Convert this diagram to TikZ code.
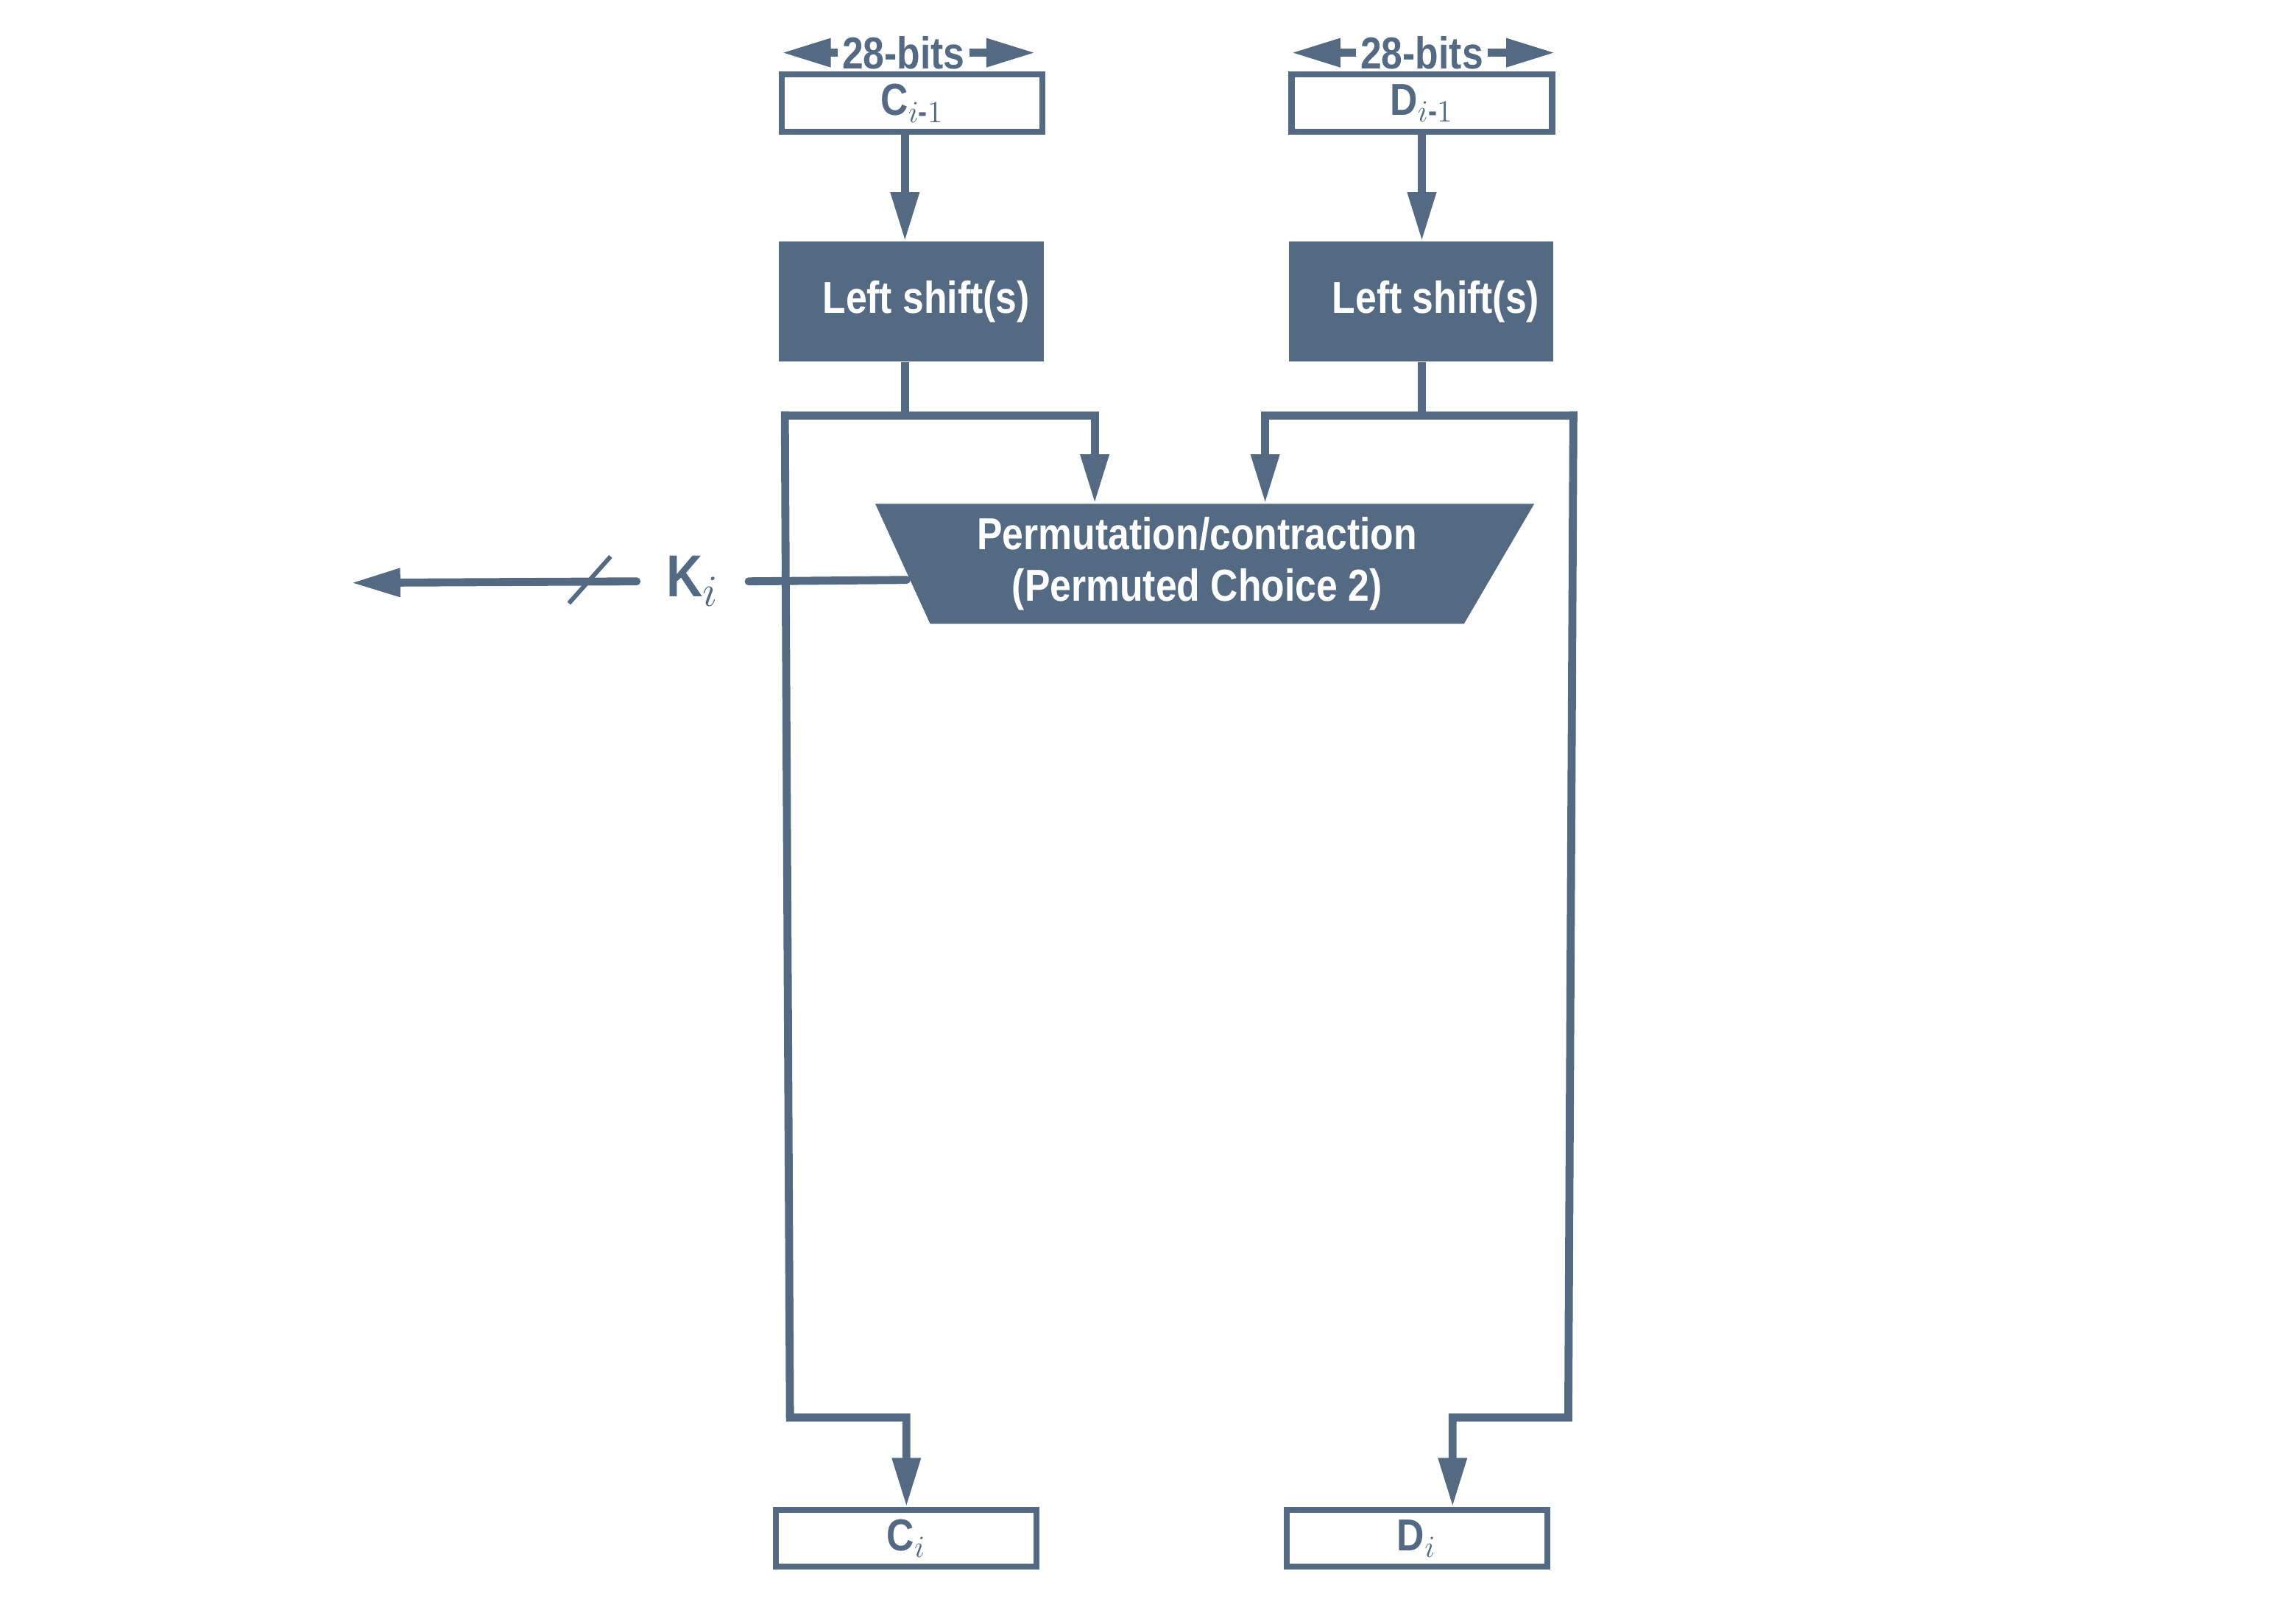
\documentclass[tikz,border=0pt]{standalone}
\usepackage{amsmath}
\usepackage{fontspec}
\setmainfont{Liberation Sans}[FakeStretch=0.85]
\usetikzlibrary{positioning,arrows.meta}
\usetikzlibrary{shapes.geometric}

\newcommand{\boxfont}{\fontsize{17.4}{19.8}\selectfont\bfseries}
\newcommand{\keyfont}{\fontsize{23}{26}\selectfont\bfseries}

\tikzstyle{regbox} = [draw=desblue, line width=2.3pt, fill=white, text=desblue, minimum width=3.56cm, minimum height=0.78cm, inner sep=0pt, font=\boxfont]
\tikzstyle{shiftbox} = [fill=desblue, text=white, minimum width=3.62cm, minimum height=1.64cm, inner sep=0pt, font=\boxfont]
\tikzstyle{bitlabel} = [text=desblue, inner sep=1.5pt, font=\boxfont]
\tikzstyle{flow} = [draw=desblue, line width=3.1pt]
\tikzstyle{arr} = [flow, -{Triangle[length=19pt,width=10.5pt]}]

\begin{document}
\begin{tikzpicture}[x=0.02cm,y=-0.02cm]
\definecolor{desblue}{RGB}{84,106,131}
\useasboundingbox (0,0) rectangle (1568,1109);
    % Draw registers
    \node[regbox] (cprev) at (623,70.5) {C$_{i\text{-}1}$};
    \node[regbox] (dprev) at (971,70.5) {D$_{i\text{-}1}$};
    \node[regbox] (ci) at (619,1050.5) {C$_{i}$};
    \node[regbox] (di) at (967.5,1050.5) {D$_{i}$};
    % Width labels
    \node[bitlabel] (cbits) at (617,36) {28-bits};
    \node[bitlabel] (dbits) at (971,36) {28-bits};
    \draw[arr] (cbits.west) -- ([xshift=0.04cm]cbits.west -| cprev.west);
    \draw[arr] (cbits.east) -- ([xshift=-0.14cm]cbits.east -| cprev.east);
    \draw[arr] (dbits.west) -- ([xshift=0.04cm]dbits.west -| dprev.west);
    \draw[arr] (dbits.east) -- (dbits.east -| dprev.east);
    % Shift boxes and PC2
    \node[shiftbox] (lshift) at (622.5,206) {\hspace*{0.4cm}Left shift(s)};
    \node[shiftbox] (rshift) at (970.5,206) {\hspace*{0.4cm}Left shift(s)};
    \node[trapezium, trapezium left angle=116, trapezium right angle=122,
          trapezium stretches=true, minimum width=9.02cm, minimum height=1.64cm,
          fill=desblue, text=white, align=center, inner sep=0pt, font=\boxfont]
          (pc2) at (817.5,385) {Permutation/contraction\\(Permuted Choice 2)};

    \coordinate (lmid) at (618,283.6);
    \coordinate (rmid) at (971,283.6);
    \coordinate (ltop) at (536,283.6);
    \coordinate (lbot) at (539.5,968);
    \coordinate (rtop) at (1074.5,283.6);
    \coordinate (rbot) at (1071,968);
    \coordinate (lin) at (747.6,283.6);
    \coordinate (rin) at (864,283.6);
    \coordinate (dinx) at (992,968);

    % Draw the data paths
    \draw[arr, line cap=round] (cprev.south -| lmid) -- (lshift.north -| lmid);
    \draw[arr, line cap=round] (dprev.south -| rmid) -- (rshift.north -| rmid);
    \draw[flow] (lshift.south -| lmid) -- (lmid);
    \draw[flow] (rshift.south -| rmid) -- (rmid);
    \draw[arr, line cap=rect] (ltop) -- (lin) -- (lin |- pc2.north);
    \draw[arr, line cap=rect] (rtop) -- (rin) -- (rin |- pc2.north);
    \draw[arr, line cap=rect] (ltop) -- (lbot) -| (ci.north);
    \draw[arr, line cap=rect] (rtop) -- (rbot) -- (dinx) -- (dinx |- di.north);

    % Subkey output
    \node[text=desblue, font=\keyfont, inner xsep=0.4cm, inner ysep=0pt] (kout) at (473,397) {K$_i$};
    \coordinate (kend) at (240,398);
    \coordinate (tick) at (403,397);
    \draw[flow, line cap=round] ([shift={(0.06cm,-0.22cm)}]pc2.west) -- (kout.east);
    \draw[arr, line cap=round] (kout.west) -- (kend);
    \draw[desblue, line width=1.7pt] ([shift={(-0.29cm,-0.3cm)}]tick) -- ([shift={(0.28cm,0.34cm)}]tick);
\end{tikzpicture}
\end{document}
